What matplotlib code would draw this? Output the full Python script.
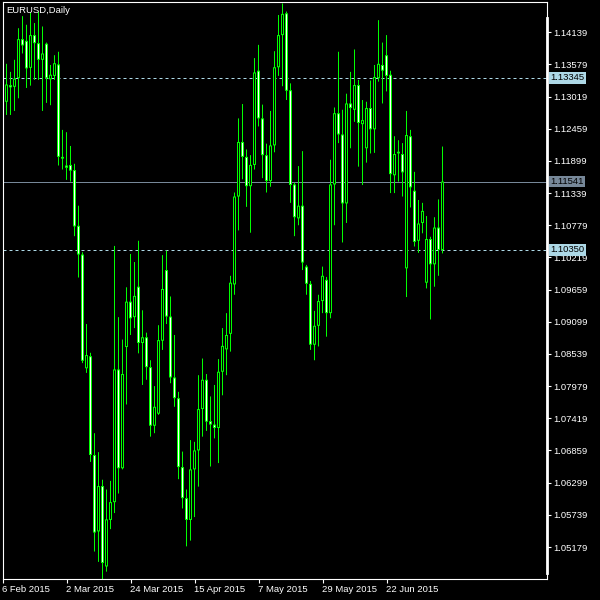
import matplotlib
matplotlib.use("Agg")
import matplotlib.pyplot as plt
import matplotlib.transforms as mtransforms

# daily bars, 9 Feb 2015 .. 10 Jul 2015 (bar 0 = 6 Feb sits on the left edge)
opens = [
    1.1293, 1.1322, 1.1319, 1.1334, 1.1402, 1.1399, 1.1352, 1.1409, 1.1395, 1.1366,
    1.1394, 1.1332, 1.1338, 1.1358, 1.1197, 1.1182, 1.1183, 1.1174, 1.1077, 1.1027,
    1.0829, 1.0850, 1.0678, 1.0545, 1.0624, 1.0484, 1.0565, 1.0596, 1.0827, 1.0655,
    1.0866, 1.0945, 1.0918, 1.0971, 1.0873, 1.0883, 1.0831, 1.0729, 1.0750, 1.0877,
    1.1000, 1.0919, 1.0813, 1.0777, 1.0657, 1.0603, 1.0565, 1.0653, 1.0686, 1.0758,
    1.0809, 1.0737, 1.0731, 1.0725, 1.0823, 1.0862, 1.0889, 1.0975, 1.1128, 1.1223,
    1.1197, 1.1146, 1.1183, 1.1347, 1.1264, 1.1200, 1.1155, 1.1217, 1.1353, 1.1409,
    1.1447, 1.1313, 1.1149, 1.1090, 1.1112, 1.1006, 1.0976, 1.0870, 1.0903, 1.0946,
    1.0983, 1.0925, 1.1149, 1.1273, 1.1236, 1.1116, 1.1290, 1.1279, 1.1322, 1.1254,
    1.1212, 1.1282, 1.1245, 1.1334, 1.1357, 1.1374, 1.1340, 1.1165, 1.1206, 1.1202,
    1.1003, 1.1233, 1.1138, 1.1051, 1.1082, 1.0978, 1.1054, 1.1010, 1.1074, 1.1035,
]
highs = [
    1.1359, 1.1345, 1.1366, 1.1421, 1.1442, 1.1427, 1.1448, 1.1430, 1.1450, 1.1424,
    1.1396, 1.1357, 1.1374, 1.1380, 1.1244, 1.1240, 1.1216, 1.1185, 1.1112, 1.1031,
    1.0906, 1.0856, 1.0716, 1.0683, 1.0635, 1.0618, 1.0633, 1.1042, 1.0918, 1.0879,
    1.0970, 1.1028, 1.1014, 1.1051, 1.0930, 1.0891, 1.0843, 1.0798, 1.0904, 1.1026,
    1.1034, 1.0954, 1.0887, 1.0788, 1.0684, 1.0618, 1.0704, 1.0701, 1.0817, 1.0846,
    1.0819, 1.0780, 1.0800, 1.0845, 1.0899, 1.0925, 1.0990, 1.1135, 1.1264, 1.1289,
    1.1210, 1.1200, 1.1369, 1.1392, 1.1288, 1.1220, 1.1277, 1.1381, 1.1444, 1.1464,
    1.1450, 1.1325, 1.1152, 1.1181, 1.1207, 1.1009, 1.0981, 1.0929, 1.0957, 1.1006,
    1.0988, 1.1192, 1.1283, 1.1380, 1.1279, 1.1307, 1.1345, 1.1384, 1.1331, 1.1296,
    1.1293, 1.1330, 1.1357, 1.1435, 1.1396, 1.1409, 1.1347, 1.1233, 1.1226, 1.1221,
    1.1277, 1.1244, 1.1171, 1.1122, 1.1117, 1.1094, 1.1058, 1.1092, 1.1123, 1.1215,
]
lows = [
    1.1270, 1.1270, 1.1277, 1.1299, 1.1377, 1.1317, 1.1321, 1.1331, 1.1331, 1.1277,
    1.1291, 1.1287, 1.1331, 1.1182, 1.1175, 1.1157, 1.1154, 1.1059, 1.0987, 1.0838,
    1.0821, 1.0666, 1.0510, 1.0492, 1.0462, 1.0475, 1.0549, 1.0577, 1.0611, 1.0653,
    1.0766, 1.0887, 1.0899, 1.0855, 1.0800, 1.0809, 1.0710, 1.0716, 1.0748, 1.0861,
    1.0906, 1.0803, 1.0762, 1.0636, 1.0585, 1.0519, 1.0529, 1.0570, 1.0623, 1.0710,
    1.0720, 1.0658, 1.0707, 1.0664, 1.0782, 1.0817, 1.0858, 1.0957, 1.1069, 1.1158,
    1.1110, 1.1065, 1.1175, 1.1250, 1.1160, 1.1135, 1.1145, 1.1205, 1.1338, 1.1320,
    1.1296, 1.1117, 1.1059, 1.1078, 1.1000, 1.0957, 1.0861, 1.0843, 1.0867, 1.0925,
    1.0884, 1.0916, 1.1078, 1.1221, 1.1048, 1.1082, 1.1212, 1.1258, 1.1180, 1.1148,
    1.1187, 1.1203, 1.1204, 1.1328, 1.1290, 1.1311, 1.1134, 1.1134, 1.1154, 1.1128,
    1.0953, 1.1109, 1.1041, 1.1030, 1.1064, 1.0968, 1.0914, 1.0971, 1.0990, 1.1029,
]
closes = [
    1.1323, 1.1318, 1.1333, 1.1402, 1.1391, 1.1351, 1.1409, 1.1395, 1.1366, 1.1377,
    1.1334, 1.1340, 1.1360, 1.1197, 1.1194, 1.1178, 1.1173, 1.1076, 1.1027, 1.0842,
    1.0852, 1.0678, 1.0543, 1.0624, 1.0490, 1.0566, 1.0596, 1.0827, 1.0655, 1.0819,
    1.0945, 1.0916, 1.0955, 1.0873, 1.0883, 1.0831, 1.0729, 1.0762, 1.0878, 1.0967,
    1.0919, 1.0813, 1.0777, 1.0657, 1.0603, 1.0565, 1.0653, 1.0686, 1.0758, 1.0809,
    1.0736, 1.0731, 1.0725, 1.0823, 1.0868, 1.0887, 1.0978, 1.1128, 1.1223, 1.1197,
    1.1146, 1.1183, 1.1344, 1.1264, 1.1200, 1.1155, 1.1217, 1.1353, 1.1409, 1.1446,
    1.1312, 1.1148, 1.1092, 1.1112, 1.1013, 1.0976, 1.0870, 1.0903, 1.0946, 1.0990,
    1.0925, 1.1149, 1.1273, 1.1236, 1.1116, 1.1290, 1.1282, 1.1322, 1.1256, 1.1261,
    1.1282, 1.1245, 1.1336, 1.1359, 1.1347, 1.1338, 1.1167, 1.1202, 1.1203, 1.1170,
    1.1235, 1.1144, 1.1049, 1.1081, 1.1103, 1.1054, 1.1010, 1.1074, 1.1035, 1.1154,
]

date_ticks = [0, 16, 32, 48, 64, 80, 96]
date_labels = ["6 Feb 2015", "2 Mar 2015", "24 Mar 2015", "15 Apr 2015",
               "7 May 2015", "29 May 2015", "22 Jun 2015"]
price_ticks = [1.05179 + 0.0056 * k for k in range(17)]

levels = [1.13345, 1.11541, 1.10350]
level_colors = ["#add8e6", "#778899", "#add8e6"]
level_styles = [(0, (3, 3)), "-", (0, (3, 3))]

green = "#00ff00"
plt.rcParams["font.family"] = ["Liberation Sans", "DejaVu Sans"]

fig = plt.figure(figsize=(6, 6), dpi=100, facecolor="black")
# left edge at 2.5 px so every bar centre lands on a pixel centre (4 px per bar)
ax = fig.add_axes([2.5 / 600, 21 / 600, 544.6 / 600, 576.7 / 600], facecolor="black")
ax.set_xlim(0, 136.15)
ax.set_ylim(1.04622, 1.14661)
px = (1.14661 - 1.04622) / 576.7   # one pixel in price units

xs = list(range(1, len(opens) + 1))
bottoms = [min(o, c) for o, c in zip(opens, closes)]
tops = [max(o, c) for o, c in zip(opens, closes)]
fills = ["white" if c < o else "black" for o, c in zip(opens, closes)]
outer_h = [max(t - b, px) for t, b in zip(tops, bottoms)]
inner_b = [b + px for b in bottoms]
inner_h = [max(t - b - 2 * px, 0) for t, b in zip(tops, bottoms)]

# wicks, then green body frame, then white/black body core
wicks = ax.vlines(xs, lows, highs, color=green, lw=0.72, zorder=2)
wicks.set_snap(False)
frame = ax.bar(xs, outer_h, bottom=bottoms, width=0.75, color=green,
               linewidth=0, zorder=3)
core = ax.bar(xs, inner_h, bottom=inner_b, width=0.25, color=fills,
              linewidth=0, zorder=4)
for r in list(frame) + list(core):
    r.set_snap(False)

for lvl, col, ls in zip(levels, level_colors, level_styles):
    ax.axhline(lvl, color=col, lw=0.72, ls=ls, zorder=1)

ax.yaxis.tick_right()
ax.set_yticks(price_ticks)
ax.set_yticklabels(["%.5f" % p for p in price_ticks])
ax.set_xticks(date_ticks)
ax.set_xticklabels(date_labels)
ax.tick_params(colors="white", labelsize=6.8, length=3, width=0.8, pad=1.5)
for lab in ax.get_xticklabels():
    lab.set_horizontalalignment("left")
for sp in ax.spines.values():
    sp.set_color("white")
    sp.set_linewidth(0.8)

# thick scale bar on the right edge
ax.plot([1.0, 1.0], [0.0104, 0.9728], transform=ax.transAxes, color="white",
        lw=2, clip_on=False, zorder=5)

trans = mtransforms.blended_transform_factory(ax.transAxes, ax.transData)
for lvl, col in zip(levels, level_colors):
    ax.text(1.0055, lvl, "%.5f" % lvl, transform=trans, fontsize=6.8, color="black",
            va="center", ha="left",
            bbox=dict(boxstyle="square,pad=0.15", fc=col, ec="none"))

ax.text(0.0075, 0.993, "EURUSD,Daily", transform=ax.transAxes, color="white",
        fontsize=6.8, va="top", ha="left")

fig.savefig("out.png", dpi=100, facecolor="black")
